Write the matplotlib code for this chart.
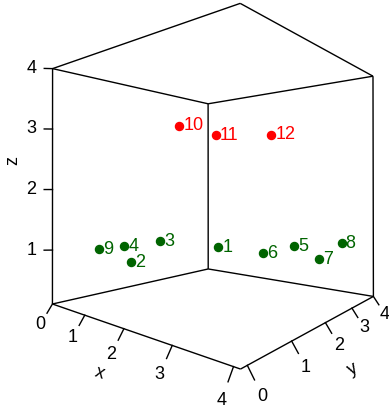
import numpy as np
import matplotlib.pyplot as plt

plt.rcParams['font.family'] = ['Liberation Sans', 'DejaVu Sans']

point_labels = [str(i) for i in range(1, 13)]
x_vals = [2.0, 2.0, 0.55, 0.55, 3.0, 3.0, 4.0, 3.5, 0.55, 2.0, 1.6, 2.5]
y_vals = [2.0, 0.0, 1.9, 1.0, 3.0, 1.95, 2.0, 3.95, 0.45, 1.0, 2.4, 3.0]
z_vals = [1, 1, 1, 1, 1, 1, 1, 1, 1, 3, 3, 3]
point_colors = ["darkgreen"] * 9 + ["red"] * 3
tick_vals = [0, 1, 2, 3, 4]

x_range = (0.0, 4.1)
y_range = (-0.13, 4.0)
z_range = (0.11, 4.0)

# where the eight box corners land in the picture (pixels, y down)
corner_px = {
    (0, 0, 0): (52.3, 303.7),
    (1, 0, 0): (240.7, 369.0),
    (0, 1, 0): (208.3, 269.0),
    (1, 1, 0): (373.3, 296.7),
    (0, 0, 1): (52.3, 69.0),
    (1, 0, 1): (240.7, 3.3),
    (0, 1, 1): (208.3, 103.7),
    (1, 1, 1): (372.7, 76.0),
}


def corner(i, j, k):
    return x_range[i], y_range[j], z_range[k]


def fit_camera():
    rows = []
    for (i, j, k), (u, v) in corner_px.items():
        X = np.array([*corner(i, j, k), 1.0])
        rows.append(np.concatenate([X, np.zeros(4), -u * X]))
        rows.append(np.concatenate([np.zeros(4), X, -v * X]))
    _, _, vt = np.linalg.svd(np.array(rows))
    return vt[-1].reshape(3, 4)


P = fit_camera()


def project(x, y, z):
    x, y, z = np.atleast_1d(x), np.atleast_1d(y), np.atleast_1d(z)
    X = np.vstack([x, y, z, np.ones(x.size)]).astype(float)
    h = P @ X
    return h[0] / h[2], h[1] / h[2]


fig = plt.figure(figsize=(3.89, 4.11), dpi=100)
ax = fig.add_axes([0, 0, 1, 1])
ax.set_xlim(0, 389)
ax.set_ylim(411, 0)
ax.axis('off')

# box: full top and bottom faces plus the three back vertical edges
edges = [
    ((0, 0, 0), (1, 0, 0)), ((1, 0, 0), (1, 1, 0)), ((1, 1, 0), (0, 1, 0)), ((0, 1, 0), (0, 0, 0)),
    ((0, 0, 1), (1, 0, 1)), ((1, 0, 1), (1, 1, 1)), ((1, 1, 1), (0, 1, 1)), ((0, 1, 1), (0, 0, 1)),
    ((0, 0, 0), (0, 0, 1)), ((0, 1, 0), (0, 1, 1)), ((1, 1, 0), (1, 1, 1)),
]
for a, b in edges:
    pa, pb = corner(*a), corner(*b)
    u, v = project([pa[0], pb[0]], [pa[1], pb[1]], [pa[2], pb[2]])
    ax.plot(u, v, color='black', lw=1.0, solid_capstyle='butt')

tick_kw = dict(fontsize=13, ha='center', va='center')
dx, dy, dz = 0.1, 0.1, 0.13
for t in tick_vals:
    # x axis along the front left bottom edge
    u, v = project([t, t, t], [y_range[0], y_range[0] - dy, y_range[0] - 2.2 * dy],
                   [z_range[0], z_range[0] - dz, z_range[0] - 2.2 * dz])
    ax.plot(u[:2], v[:2], color='black', lw=1.0)
    ax.text(u[2], v[2], str(t), **tick_kw)
    # y axis along the front right bottom edge
    u, v = project([x_range[1], x_range[1] + dx, x_range[1] + 2.1 * dx], [t, t, t],
                   [z_range[0], z_range[0] - dz, z_range[0] - 2.1 * dz])
    ax.plot(u[:2], v[:2], color='black', lw=1.0)
    ax.text(u[2], v[2], str(t), **tick_kw)
    # z axis on the left vertical edge
    if t >= 1:
        u, v = project([x_range[0], x_range[0] - dx, x_range[0] - 2.5 * dx],
                       [y_range[0], y_range[0] - dy, y_range[0] - 2.5 * dy], [t, t, t])
        ax.plot(u[:2], v[:2], color='black', lw=1.0)
        ax.text(u[2], v[2], str(t), **tick_kw)

ax.text(100, 373, 'x', fontsize=13, ha='center', va='center', rotation=-19)
ax.text(353, 369, 'y', fontsize=13, ha='center', va='center', rotation=29)
ax.text(13, 160, 'z', fontsize=13, ha='center', va='center', rotation=90)

pu, pv = project(x_vals, y_vals, z_vals)
for u, v, lab, c in zip(pu, pv, point_labels, point_colors):
    ax.plot(u, v, 'o', color=c, ms=5.8, mec=c)
    ax.annotate(lab, (u, v), xytext=(3, 0), textcoords='offset points',
                ha='left', va='center', color=c, fontsize=13)

fig.savefig('out.png', dpi=100)
